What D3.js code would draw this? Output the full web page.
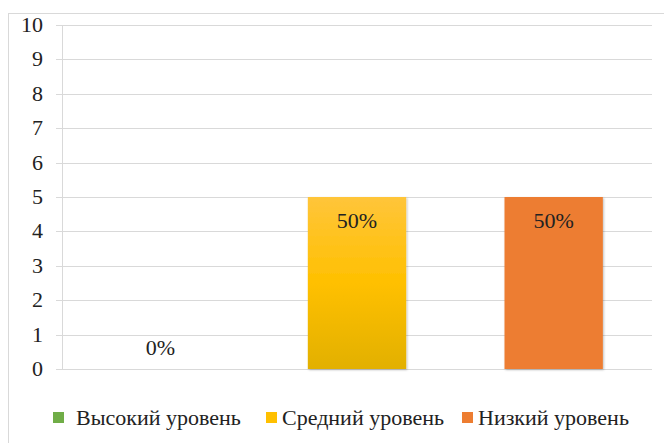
<html>
<head>
<meta charset="UTF-8">
<script src="https://d3js.org/d3.v7.min.js"></script>
</head>
<body style="margin:0">
<svg width="664" height="443"></svg>
<script>
// данные
var categories = ["Высокий уровень", "Средний уровень", "Низкий уровень"];
var values = [0, 5, 5];
var labels = ["0%", "50%", "50%"];
var colors = ["#70AD47", "#FFC000", "#ED7D31"];
var yTicks = [0, 1, 2, 3, 4, 5, 6, 7, 8, 9, 10];

var W = 664, H = 443;
var margin = {left: 62, right: 12, top: 25, bottom: 74};
var FONT = "Liberation Serif";
var FS = 22;

var svg = d3.select("svg");

// рамка диаграммы
svg.append("rect")
    .attr("x", 8.5).attr("y", 13.5)
    .attr("width", 700).attr("height", 500)
    .attr("fill", "none")
    .attr("stroke", "#d9d9d9");

var defs = svg.append("defs");
var grad = defs.append("linearGradient")
    .attr("id", "gradMid")
    .attr("x1", 0).attr("y1", 0).attr("x2", 0).attr("y2", 1);
grad.append("stop").attr("offset", "0%").attr("stop-color", "#FFC53A");
grad.append("stop").attr("offset", "50%").attr("stop-color", "#FFC000");
grad.append("stop").attr("offset", "100%").attr("stop-color", "#E2B000");

var shadow = defs.append("filter").attr("id", "shadow")
    .attr("x", "-10%").attr("y", "-10%").attr("width", "130%").attr("height", "130%");
shadow.append("feDropShadow")
    .attr("dx", 1).attr("dy", 1).attr("stdDeviation", 1.2)
    .attr("flood-color", "#000").attr("flood-opacity", 0.25);

var x = d3.scaleBand()
    .domain(categories)
    .range([margin.left, W - margin.right])
    .paddingInner(0.5)
    .paddingOuter(0.25);

var y = d3.scaleLinear()
    .domain([0, 10])
    .range([H - margin.bottom, margin.top]);

// сетка
svg.append("g")
    .selectAll("line")
    .data(yTicks)
    .enter()
    .append("line")
    .attr("x1", margin.left - 6)
    .attr("x2", W - margin.right)
    .attr("y1", d => Math.round(y(d)) + 0.5)
    .attr("y2", d => Math.round(y(d)) + 0.5)
    .attr("stroke", "#d9d9d9")
    .attr("stroke-width", 1);

// ось Y
svg.append("line")
    .attr("x1", margin.left + 0.5).attr("x2", margin.left + 0.5)
    .attr("y1", y(10)).attr("y2", y(0))
    .attr("stroke", "#d9d9d9");

svg.append("g")
    .selectAll("text")
    .data(yTicks)
    .enter()
    .append("text")
    .attr("x", 43)
    .attr("y", d => y(d) + 7)
    .attr("text-anchor", "end")
    .style("font-family", FONT)
    .attr("font-size", FS)
    .attr("fill", "#222")
    .text(d => d);

// столбцы
var data = categories.map((c, i) => ({cat: c, v: values[i], label: labels[i], color: colors[i], i: i}));

svg.append("g")
    .selectAll("rect")
    .data(data.filter(d => d.v > 0))
    .enter()
    .append("rect")
    .attr("x", d => x(d.cat))
    .attr("y", d => y(d.v))
    .attr("width", x.bandwidth())
    .attr("height", d => y(0) - y(d.v))
    .attr("fill", d => d.i === 1 ? "url(#gradMid)" : d.color)
    .attr("filter", "url(#shadow)");

// подписи
svg.append("g")
    .selectAll("text")
    .data(data)
    .enter()
    .append("text")
    .attr("x", d => x(d.cat) + x.bandwidth() / 2)
    .attr("y", d => d.v > 0 ? y(d.v) + 31 : y(0) - 14)
    .attr("text-anchor", "middle")
    .style("font-family", FONT)
    .attr("font-size", FS)
    .attr("fill", "#222")
    .text(d => d.label);

// легенда
var legendX = [53, 266, 462];
var legendTextX = [76, 282, 478];
var leg = svg.append("g")
    .selectAll("g")
    .data(data)
    .enter()
    .append("g");

leg.append("rect")
    .attr("x", (d, i) => legendX[i]).attr("y", 412)
    .attr("width", 11).attr("height", 11)
    .attr("fill", d => d.color);

leg.append("text")
    .attr("x", (d, i) => legendTextX[i])
    .attr("y", 425)
    .style("font-family", FONT)
    .attr("font-size", FS)
    .attr("fill", "#222")
    .text(d => d.cat);
</script>
</body>
</html>
